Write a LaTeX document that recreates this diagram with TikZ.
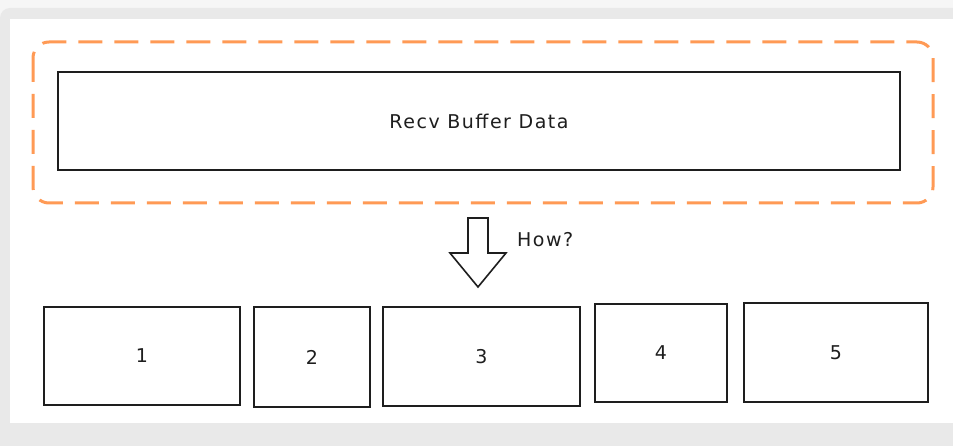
\documentclass[tikz,border=0pt]{standalone}
\usepackage{fontspec}
\setmainfont{DejaVu Sans}[LetterSpace=8]
\definecolor{bgout}{HTML}{F6F6F6}
\definecolor{bgpanel}{HTML}{E9E9E9}
\definecolor{dashorange}{HTML}{FF9A55}
\definecolor{ink}{HTML}{1E1E1E}
\tikzset{
  box/.style={draw=ink, line width=1.6pt, fill=white, inner sep=0pt,
    font=\fontsize{19}{22}\selectfont, text=ink},
  grp/.style={draw=dashorange, line width=3pt, dash pattern=on 24pt off 12pt,
    rounded corners=16pt},
  blockarrow/.style={draw=ink, line width=1.6pt, fill=white, line join=miter},
  lbl/.style={font=\fontsize{19}{22}\selectfont, text=ink, inner sep=0pt}
}
\begin{document}
\begin{tikzpicture}[x=1pt,y=-1pt]
\useasboundingbox (0,0) rectangle (953,446);
\fill[bgout] (0,0) rectangle (953,446);
\fill[bgpanel, rounded corners=10pt] (0,8) rectangle (975,470);
\fill[white] (10,19) rectangle (953,423);

\draw[grp] (33,42) rectangle (933,203);
\node[box, minimum width=842pt, minimum height=98pt] (recv) at (479,121) {Recv Buffer Data};

\node[box, minimum width=196pt, minimum height=98pt] (b1) at (142,356) {1};
\node[box, minimum width=116pt, minimum height=100pt] (b2) at (312,357) {2};
\node[box, minimum width=197pt, minimum height=99pt] (b3) at (481.5,356.5) {3};
\node[box, minimum width=132pt, minimum height=98pt] (b4) at (661,353) {4};
\node[box, minimum width=184pt, minimum height=99pt] (b5) at (836,352.5) {5};

\coordinate (arr) at (478,218);
\draw[blockarrow] ([xshift=-10pt]arr) -- ++(0,35) -- ++(-18,0) -- (478,287) -- (506,253) -- ++(-18,0) -- ([xshift=10pt]arr) -- cycle;
\node[lbl, anchor=west] (how) at (517,240) {How?};
\end{tikzpicture}
\end{document}
